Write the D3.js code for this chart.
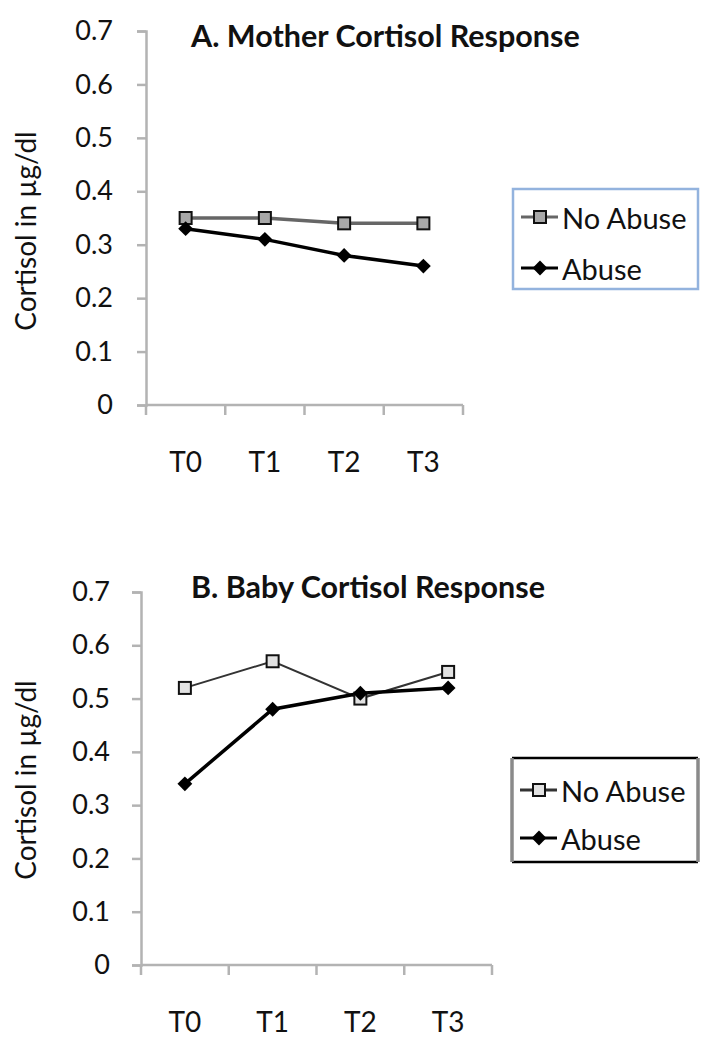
<!DOCTYPE html>
<html>
<head>
<meta charset="utf-8">
<script src="https://cdn.jsdelivr.net/npm/d3@7"></script>
<style>
  body { margin: 0; background: #fff; }
  text { font-family: Lato, "Open Sans", sans-serif; fill: #111; }
</style>
</head>
<body>
<svg id="chart" width="725" height="1050"></svg>
<script>
// categories and values
const timepoints = ["T0", "T1", "T2", "T3"];
const yTicks = [0, 0.1, 0.2, 0.3, 0.4, 0.5, 0.6, 0.7];
const seriesNames = ["No Abuse", "Abuse"];
const motherNoAbuse = [0.35, 0.35, 0.34, 0.34];
const motherAbuse = [0.33, 0.31, 0.28, 0.26];
const babyNoAbuse = [0.52, 0.57, 0.50, 0.55];
const babyAbuse = [0.34, 0.48, 0.51, 0.52];
const panelTitles = ["A. Mother Cortisol Response", "B. Baby Cortisol Response"];
const yLabel = "Cortisol in µg/dl";

const svg = d3.select("#chart");

/**
 * draw one panel (axes, two series, title, legend)
 */
function drawPanel(p) {
    const x = d3.scaleBand().domain(timepoints).range([p.left, p.right]);
    const y = d3.scaleLinear().domain([0, 0.7]).range([p.bottom, p.top]);
    const g = svg.append("g");

    // y axis
    const yAxis = g.append("g")
        .attr("transform", `translate(${p.left},0)`)
        .call(d3.axisLeft(y).tickValues(yTicks).tickSize(9).tickPadding(p.tickPad)
            .tickFormat(d => d === 0 ? "0" : d3.format(".1f")(d)));
    yAxis.select(".domain").attr("stroke", "#b3b3b3").attr("stroke-width", 2.5);
    yAxis.selectAll(".tick line").attr("stroke", "#b3b3b3").attr("stroke-width", 2.5);
    yAxis.selectAll(".tick text").style("font-size", "27px").attr("fill", "#222");

    // x axis line with ticks between categories
    g.append("line")
        .attr("x1", p.left).attr("x2", p.right)
        .attr("y1", y(0)).attr("y2", y(0))
        .attr("stroke", "#b3b3b3").attr("stroke-width", 2.5);
    const bounds = timepoints.map(t => x(t)).concat([x(timepoints[3]) + x.bandwidth()]);
    g.selectAll(".xtick").data(bounds).enter().append("line")
        .attr("x1", d => d).attr("x2", d => d)
        .attr("y1", y(0)).attr("y2", y(0) + 10)
        .attr("stroke", "#b3b3b3").attr("stroke-width", 2.5);
    g.selectAll(".xlab").data(timepoints).enter().append("text")
        .attr("x", d => x(d) + x.bandwidth() / 2)
        .attr("y", p.xLabelY)
        .attr("text-anchor", "middle")
        .style("font-size", "28px")
        .text(d => d);

    // y label
    g.append("text")
        .attr("transform", `translate(36,${p.yLabelMid}) rotate(-90)`)
        .attr("text-anchor", "middle")
        .style("font-size", "28px")
        .text(yLabel);

    // title
    g.append("text")
        .attr("x", 191).attr("y", p.titleY)
        .style("font-size", "30.5px").style("font-weight", "bold")
        .text(p.title);

    const cx = d => x(d) + x.bandwidth() / 2;
    const line = d3.line().x((_, i) => cx(timepoints[i])).y(d => y(d));

    // no abuse series
    g.append("path").datum(p.noAbuse)
        .attr("d", line).attr("fill", "none")
        .attr("stroke", p.noAbuseStroke).attr("stroke-width", p.noAbuseWidth);
    // abuse series
    g.append("path").datum(p.abuse)
        .attr("d", line).attr("fill", "none")
        .attr("stroke", "#000").attr("stroke-width", 3.5);

    g.selectAll(".sq").data(p.noAbuse).enter().append("rect")
        .attr("x", (_, i) => cx(timepoints[i]) - 6)
        .attr("y", d => y(d) - 6)
        .attr("width", 12).attr("height", 12)
        .attr("fill", p.squareFill).attr("stroke", "#111").attr("stroke-width", 2);
    g.selectAll(".dm").data(p.abuse).enter().append("path")
        .attr("d", d3.symbol(d3.symbolDiamond2, 140))
        .attr("transform", (d, i) => `translate(${cx(timepoints[i])},${y(d)})`)
        .attr("fill", "#000");

    // legend
    const L = p.legend;
    const lg = g.append("g");
    if (L.style === "blue") {
        lg.append("rect")
            .attr("x", L.x).attr("y", L.y).attr("width", L.w).attr("height", L.h)
            .attr("fill", "#fff").attr("stroke", "#93b3de").attr("stroke-width", 2.5);
    } else {
        [[L.x, L.y, L.x + L.w, L.y], [L.x, L.y + L.h, L.x + L.w, L.y + L.h]].forEach(s =>
            lg.append("line").attr("x1", s[0]).attr("y1", s[1]).attr("x2", s[2]).attr("y2", s[3])
                .attr("stroke", "#000").attr("stroke-width", 2.5));
        [[L.x, L.y, L.x, L.y + L.h], [L.x + L.w, L.y, L.x + L.w, L.y + L.h]].forEach(s =>
            lg.append("line").attr("x1", s[0]).attr("y1", s[1]).attr("x2", s[2]).attr("y2", s[3])
                .attr("stroke", "#8a8a8a").attr("stroke-width", 3.5));
    }
    seriesNames.forEach((name, i) => {
        const ey = L.rows[i];
        lg.append("line")
            .attr("x1", L.x + 8).attr("x2", L.x + 45).attr("y1", ey).attr("y2", ey)
            .attr("stroke", i === 0 ? p.noAbuseStroke : "#000").attr("stroke-width", 3);
        if (i === 0) {
            lg.append("rect").attr("x", L.x + 21).attr("y", ey - 6).attr("width", 12).attr("height", 12)
                .attr("fill", p.squareFill).attr("stroke", "#111").attr("stroke-width", 2);
        } else {
            lg.append("path").attr("d", d3.symbol(d3.symbolDiamond2, 140))
                .attr("transform", `translate(${L.x + 27},${ey})`).attr("fill", "#000");
        }
        lg.append("text")
            .attr("x", L.x + 49).attr("y", ey)
            .attr("dominant-baseline", "central")
            .style("font-size", "29px")
            .text(name);
    });
}

drawPanel({
    title: panelTitles[0], noAbuse: motherNoAbuse, abuse: motherAbuse,
    left: 146, right: 463, top: 31, bottom: 405, tickPad: 24,
    titleY: 47, xLabelY: 472, yLabelMid: 231,
    noAbuseStroke: "#666", noAbuseWidth: 3.5, squareFill: "#a8a8a8",
    legend: { x: 513, y: 189, w: 185, h: 100, rows: [217, 268], style: "blue" }
});

drawPanel({
    title: panelTitles[1], noAbuse: babyNoAbuse, abuse: babyAbuse,
    left: 141, right: 492, top: 592, bottom: 965, tickPad: 22,
    titleY: 598, xLabelY: 1032, yLabelMid: 780,
    noAbuseStroke: "#333", noAbuseWidth: 2, squareFill: "#e2e2e2",
    legend: { x: 512, y: 758, w: 186, h: 104, rows: [790, 838], style: "black" }
});
</script>
</body>
</html>
